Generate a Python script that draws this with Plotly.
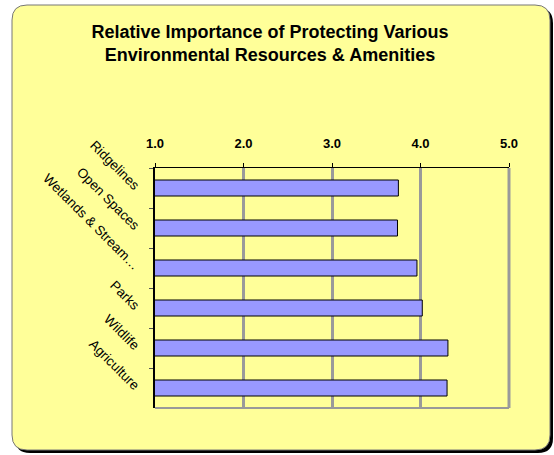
import plotly.graph_objects as go

# Survey data: mean importance rating (1-5)
categories = ["Ridgelines", "Open Spaces", "Wetlands & Stream\u2026", "Parks", "Wildlife", "Agriculture"]
ratings = [3.75, 3.74, 3.96, 4.02, 4.31, 4.30]
tick_vals = [1, 2, 3, 4, 5]
tick_text = ["<b>1.0</b>", "<b>2.0</b>", "<b>3.0</b>", "<b>4.0</b>", "<b>5.0</b>"]

W, H = 554, 455
L, R, T, B = 155, 45, 168, 47
pw, ph = W - L - R, H - T - B


def fx(px):
    return (px - L) / pw


def fy(py):
    return (H - B - py) / ph


def rounded_box(x0, y0, x1, y1, r):
    pts = [
        f"M {fx(x0 + r)},{fy(y0)}",
        f"L {fx(x1 - r)},{fy(y0)}",
        f"Q {fx(x1)},{fy(y0)} {fx(x1)},{fy(y0 + r)}",
        f"L {fx(x1)},{fy(y1 - r)}",
        f"Q {fx(x1)},{fy(y1)} {fx(x1 - r)},{fy(y1)}",
        f"L {fx(x0 + r)},{fy(y1)}",
        f"Q {fx(x0)},{fy(y1)} {fx(x0)},{fy(y1 - r)}",
        f"L {fx(x0)},{fy(y0 + r)}",
        f"Q {fx(x0)},{fy(y0)} {fx(x0 + r)},{fy(y0)} Z",
    ]
    return " ".join(pts)


fig = go.Figure(go.Bar(
    x=ratings, y=categories, orientation="h", width=0.4,
    marker=dict(color="#9999FF", line=dict(color="black", width=1)),
))

fig.update_layout(
    width=W, height=H,
    margin=dict(l=L, r=R, t=T, b=B),
    paper_bgcolor="white",
    plot_bgcolor="rgba(0,0,0,0)",
    font=dict(family="Liberation Sans, Arial", color="black", size=11),
    showlegend=False,
    title=dict(
        text="<b>Relative Importance of Protecting Various<br>Environmental Resources & Amenities</b>",
        x=270 / W, xanchor="center", y=1 - 38 / H, yanchor="top",
        font=dict(size=18),
    ),
    shapes=[
        # shadow
        dict(type="path", xref="paper", yref="paper", layer="below",
             path=rounded_box(15, 8, 553, 453, 15), fillcolor="black", line=dict(width=0)),
        # panel
        dict(type="path", xref="paper", yref="paper", layer="below",
             path=rounded_box(12, 5, 550, 450, 15), fillcolor="#FFFF99",
             line=dict(color="#777777", width=1)),
        # bottom border of plot area
        dict(type="line", xref="paper", yref="paper", x0=0, x1=1, y0=0, y1=0,
             line=dict(color="#999999", width=2)),
        # right border (5.0 grid line)
        dict(type="line", xref="paper", yref="paper", x0=1, x1=1, y0=0, y1=1,
             layer="below", line=dict(color="#9a9a9a", width=3)),
    ],
)

fig.update_xaxes(
    side="top", range=[1, 5], tickvals=tick_vals, ticktext=tick_text,
    tickfont=dict(size=13), ticklabelstandoff=10,
    showgrid=True, gridcolor="#9a9a9a", gridwidth=3,
    showline=True, linecolor="black", linewidth=1,
    ticks="outside", ticklen=4, tickcolor="black",
    zeroline=False, fixedrange=True,
)
fig.update_yaxes(
    categoryorder="array", categoryarray=categories, autorange="reversed",
    tickangle=45, tickfont=dict(size=13.5), ticklabelstandoff=12,
    showline=True, linecolor="black", linewidth=1.5,
    ticks="outside", ticklen=4, tickcolor="#555555", tickson="boundaries",
    showgrid=False, fixedrange=True,
)

fig.write_html("out.html", config={"displayModeBar": False},
               post_script="document.body.style.margin='0';")
